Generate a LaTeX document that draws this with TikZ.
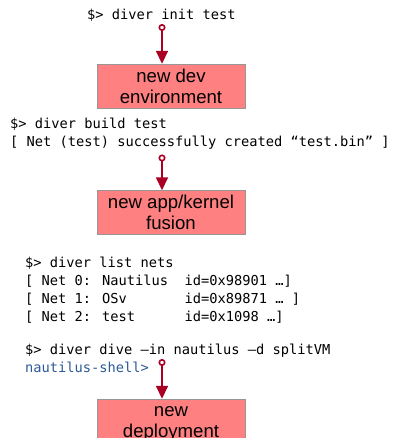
\documentclass[tikz,border=0pt]{standalone}
\usepackage{fontspec}
\setmainfont{Liberation Sans}
\newfontfamily\termfont{DejaVu Sans Mono}
\usepackage{tikz}
\usetikzlibrary{arrows.meta}
\usepackage{color}
\definecolor{boxred}{RGB}{255,128,128}
\definecolor{boxedge}{RGB}{150,150,150}
\definecolor{arrowred}{RGB}{170,0,35}
\definecolor{shellblue}{RGB}{45,90,150}

\tikzset{
	cmd/.style={anchor=base west, inner sep=0pt, font=\termfont\fontsize{13.7}{16}\selectfont},
	stage/.style={draw=boxedge, fill=boxred, minimum width=148pt, minimum height=44pt, align=center, inner sep=0pt, font=\fontsize{18.6}{21}\selectfont},
	spawn/.style={arrowred, line width=1.6pt, {Circle[open,length=7pt,width=7pt]}-{Triangle[length=13pt,width=12pt]}}
}

\begin{document}
\begin{tikzpicture}[x=1pt,y=-1pt]
	\useasboundingbox (0,0) rectangle (394,438);
	\clip (0,0) rectangle (394,438);
	% init
	\node[cmd] (init) at (87,20) {\$> diver init test};
	\node[stage] (devenv) at (171,86) {new dev\\environment};
	\coordinate (initport) at (162,24);
	\draw[spawn] (initport) -- (initport |- devenv.north);
	% build
	\node[cmd] (build) at (10,129) {\$> diver build test};
	\node[cmd] (buildmsg) at (10,147) {[ Net (test) successfully created “test.bin” ]};
	\node[stage] (fusion) at (171,212.5) {new app/kernel\\fusion};
	\coordinate (buildport) at (162,154.5);
	\draw[spawn] (buildport) -- (buildport |- fusion.north);
	% list
	\node[cmd] (list) at (25,267) {\$> diver list nets};
	\node[cmd] (net0) at (25,285) {[ Net 0: Nautilus~~id=0x98901 …]};
	\node[cmd] (net1) at (25,303) {[ Net 1: OSv~~~~~~~id=0x89871 … ]};
	\node[cmd] (net2) at (25,321) {[ Net 2: test~~~~~~id=0x1098 …]};
	% dive
	\node[cmd] (dive) at (25,354) {\$> diver dive –in nautilus –d splitVM};
	\node[cmd, text=shellblue] (shell) at (25,372) {nautilus-shell>};
	\node[stage, minimum height=50pt] (deploy) at (171,424) {new\\deployment};
	\coordinate (diveport) at (162,359);
	\draw[spawn] (diveport) -- (diveport |- deploy.north);
\end{tikzpicture}
\end{document}
